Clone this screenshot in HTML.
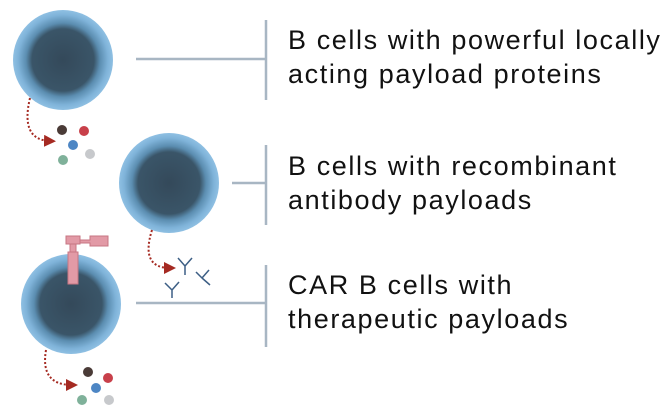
<!DOCTYPE html>
<html><head><style>
body{margin:0;width:668px;height:418px;background:#fff;overflow:hidden;position:relative;font-family:"Liberation Sans",sans-serif}
.t{position:absolute;left:288px;font-size:27px;line-height:34px;letter-spacing:1.6px;color:#111;white-space:nowrap}
</style></head><body>
<svg width="668" height="418" style="position:absolute;left:0;top:0">
<defs>
<radialGradient id="g" cx="50%" cy="50%" r="50%">
<stop offset="0" stop-color="#34495a"/><stop offset="0.62" stop-color="#3a5568"/><stop offset="0.74" stop-color="#5b8db0"/><stop offset="0.9" stop-color="#7fb3d9"/><stop offset="1" stop-color="#8fc0e3"/>
</radialGradient>
<marker id="a" markerWidth="6" markerHeight="6" refX="3" refY="3" orient="auto"><path d="M0,0L6,3L0,6Z" fill="#a52a22"/></marker>
</defs>
<g stroke="#a8b6c3" stroke-width="2.5" fill="none">
<path d="M136 59H266M266 20V100M232 183H266M266 145V225M136 303H266M266 265V347"/>
</g>
<circle cx="63" cy="60" r="50" fill="url(#g)"/>
<circle cx="169" cy="183" r="50" fill="url(#g)"/>
<circle cx="71" cy="304" r="50" fill="url(#g)"/>
<g fill="#e29aa6" stroke="#c77683" stroke-width="1">
<rect x="66" y="236" width="14" height="8"/><rect x="70" y="244" width="6" height="8"/><rect x="68" y="252" width="10" height="32"/><path d="M80 240h10v-4h18v10h-18v-3h-10z"/>
</g>
<g stroke="#a52a22" stroke-width="2" stroke-dasharray="2 2" fill="none" marker-end="url(#a)">
<path d="M30 98Q20 140 50 141"/><path d="M152 230Q140 268 170 268"/><path d="M46 350Q40 385 72 385"/>
</g>
<g>
<circle cx="62" cy="130" r="5" fill="#4a3b37"/><circle cx="84" cy="131" r="5" fill="#c8404a"/><circle cx="73" cy="145" r="5" fill="#4d86c4"/><circle cx="63" cy="160" r="5" fill="#7fb19a"/><circle cx="90" cy="154" r="5" fill="#c7c9cc"/>
<circle cx="88" cy="372" r="5" fill="#4a3b37"/><circle cx="108" cy="378" r="5" fill="#c8404a"/><circle cx="96" cy="388" r="5" fill="#4d86c4"/><circle cx="82" cy="400" r="5" fill="#7fb19a"/><circle cx="109" cy="400" r="5" fill="#c7c9cc"/>
</g>
<g stroke="#3d5f85" stroke-width="1.5" fill="none">
<path d="M185 275V266L178 258M185 266L192 258"/><path d="M172 290L165 283M172 290L179 282M172 290V298"/><path d="M202 278L196 272M202 278L209 270M202 278L210 285"/>
</g>
</svg>
<div class="t" style="top:23px">B cells with powerful locally<br>acting payload proteins</div>
<div class="t" style="top:149px">B cells with recombinant<br>antibody payloads</div>
<div class="t" style="top:268px">CAR B cells with<br>therapeutic payloads</div>
</body></html>
